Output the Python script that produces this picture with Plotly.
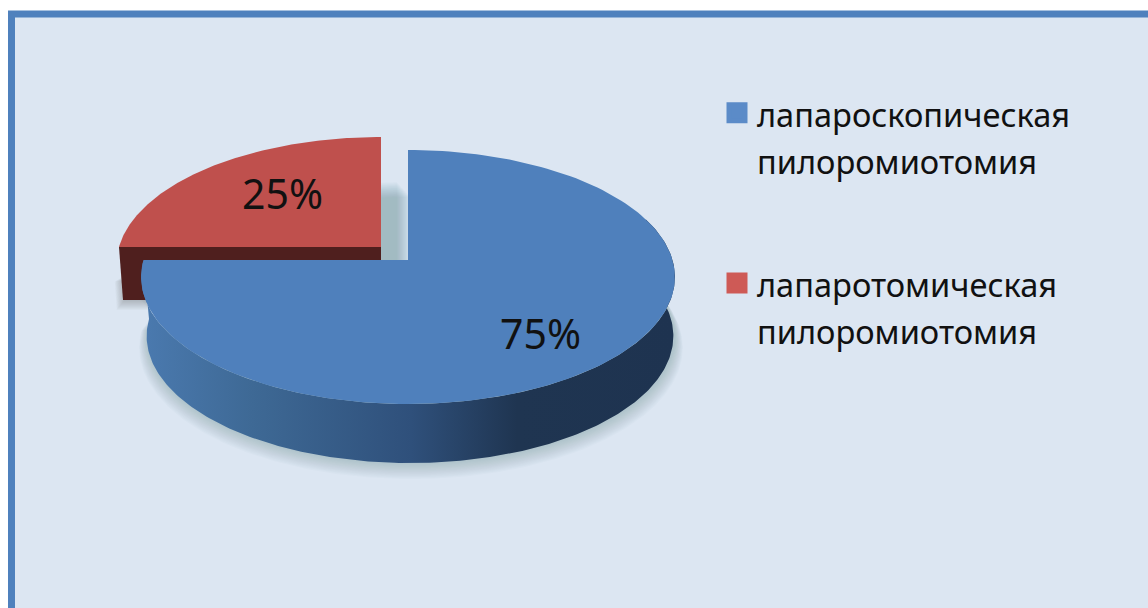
import numpy as np
import plotly.graph_objects as go

# ---- data ----
categories = ["лапароскопическая<br>пилоромиотомия", "лапаротомическая<br>пилоромиотомия"]
values = [75, 25]
labels = ["75%", "25%"]
legend_colors = ["#5B8BC8", "#CE5A56"]
top_colors = ["#4F80BC", "#BF504D"]
wall_color_red = "#4F1F1E"

# ---- projection of the pie (pixel-space axes) ----
K = 0.134
RX, RY = 264.5, 124.7


def rim(theta_deg, ax, ay, rx=RX, ry=RY):
    t = np.radians(theta_deg)
    u, v = np.sin(t), np.cos(t)
    w = 1 + K * v
    return ax + rx * u / w, ay - ry * v / w


def slice_xy(a0, a1, ax, ay, rx=RX, ry=RY):
    th = np.linspace(a0, a1, 160)
    x, y = rim(th, ax, ay, rx, ry)
    return np.r_[ax, x, ax], np.r_[ay, y, ay]


def poly(x, y, color, **kw):
    return go.Scatter(x=x, y=y, mode="lines", fill="toself", fillcolor=color,
                      line=dict(width=0, color=color), hoverinfo="skip",
                      showlegend=False, **kw)


share = np.array(values, float) / sum(values) * 360
blue_end = share[0]
red_start = blue_end
red_end = blue_end + share[1]

blue_apex = (408.0, 260.0)
red_apex = (381.0, 247.0)
DEPTH_BLUE = 59.0
DEPTH_RED = 53.0

fig = go.Figure()

# soft shadow beneath the blue disc (front half only)
for i in range(1, 15):
    th = np.linspace(70, 270, 200)
    x, y = rim(th, 411, 319 + 0.8 * i, 261 + 0.6 * i, RY + 0.3 * i)
    fig.add_trace(poly(x, y, "rgba(105,110,122,0.024)"))

# shadow cast by the red slice, seen in the gap
for i in range(24):
    x, y = slice_xy(red_start, red_end, red_apex[0] + 16 + 0.6 * i, red_apex[1] + 45 + 0.65 * i)
    fig.add_trace(poly(x, y, "rgba(95,100,110,0.014)"))

# shadow left of and below the red wall
lx, ly = rim(red_start, *red_apex, 262)
for i in range(10):
    fig.add_trace(poly([lx + 3 - 0.8 * i, lx + 30, lx + 30, lx + 5 - 0.8 * i],
                       [ly + 30 + i * 0.5, ly + 30, ly + DEPTH_RED + 1 + i, ly + DEPTH_RED + 1 + i],
                       "rgba(95,100,110,0.04)"))

# red slice: dark radial wall then top face
wx, wy = rim(red_start, *red_apex, 262)
fig.add_trace(poly([wx, red_apex[0], red_apex[0], wx + 4],
                   [wy, red_apex[1], red_apex[1] + DEPTH_RED, wy + DEPTH_RED],
                   wall_color_red))
x, y = slice_xy(red_start, red_end, *red_apex, 262)
fig.add_trace(poly(x, y, top_colors[1]))

# blue outer wall with horizontal gradient
th = np.linspace(70, blue_end, 240)
tx, ty = rim(th, *blue_apex)
bx, by = rim(th[::-1], 410, blue_apex[1] + DEPTH_BLUE, 261)
fig.add_trace(go.Scatter(
    x=np.r_[tx, bx], y=np.r_[ty, by], mode="lines", fill="toself",
    line=dict(width=0), hoverinfo="skip", showlegend=False,
    fillgradient=dict(type="horizontal", start=146, stop=676,
                      colorscale=[[0, "#4A79AE"], [0.2, "#3E6995"], [0.5, "#2F507B"],
                                  [0.7, "#1F3551"], [1, "#1E3350"]])))

# blue top face
x, y = slice_xy(0, blue_end, *blue_apex)
fig.add_trace(poly(x, y, top_colors[0]))

# legend entries (leading blank line keeps the swatch level with the first text line)
for name, col in zip(categories, legend_colors):
    fig.add_trace(go.Scatter(
        x=[None], y=[None], mode="markers", legendgroup=name,
        name=f'<span style="font-size:32.6px"> <br>{name}</span>',
        marker=dict(symbol="square", size=16, color=col, line=dict(width=5, color=col))))

fig.update_layout(
    width=1148, height=608, autosize=False,
    margin=dict(l=0, r=0, t=0, b=0),
    paper_bgcolor="white", plot_bgcolor="rgba(0,0,0,0)",
    xaxis=dict(range=[0, 1148], visible=False, domain=[0, 1], fixedrange=True),
    yaxis=dict(range=[608, 0], visible=False, domain=[0, 1], fixedrange=True),
    font=dict(family="Noto Sans, Open Sans, sans-serif", color="#111111"),
    legend=dict(x=717 / 1148, y=1 - 36 / 608, xanchor="left", yanchor="top",
                bgcolor="rgba(0,0,0,0)", font=dict(size=36, color="#111111"),
                tracegroupgap=27, itemclick=False, itemdoubleclick=False),
    shapes=[dict(type="rect", xref="x", yref="y", x0=11.5, y0=14, x1=1175, y1=640,
                 fillcolor="#DCE6F2", line=dict(color="#4F81BD", width=7), layer="below")],
    annotations=[
        dict(x=540, y=333, text=labels[0], showarrow=False, font=dict(size=41, color="#111111")),
        dict(x=282, y=193, text=labels[1], showarrow=False, font=dict(size=41, color="#111111")),
    ],
)
fig.write_html("out.html", post_script="document.body.style.margin='0';",
               config={"displayModeBar": False})
